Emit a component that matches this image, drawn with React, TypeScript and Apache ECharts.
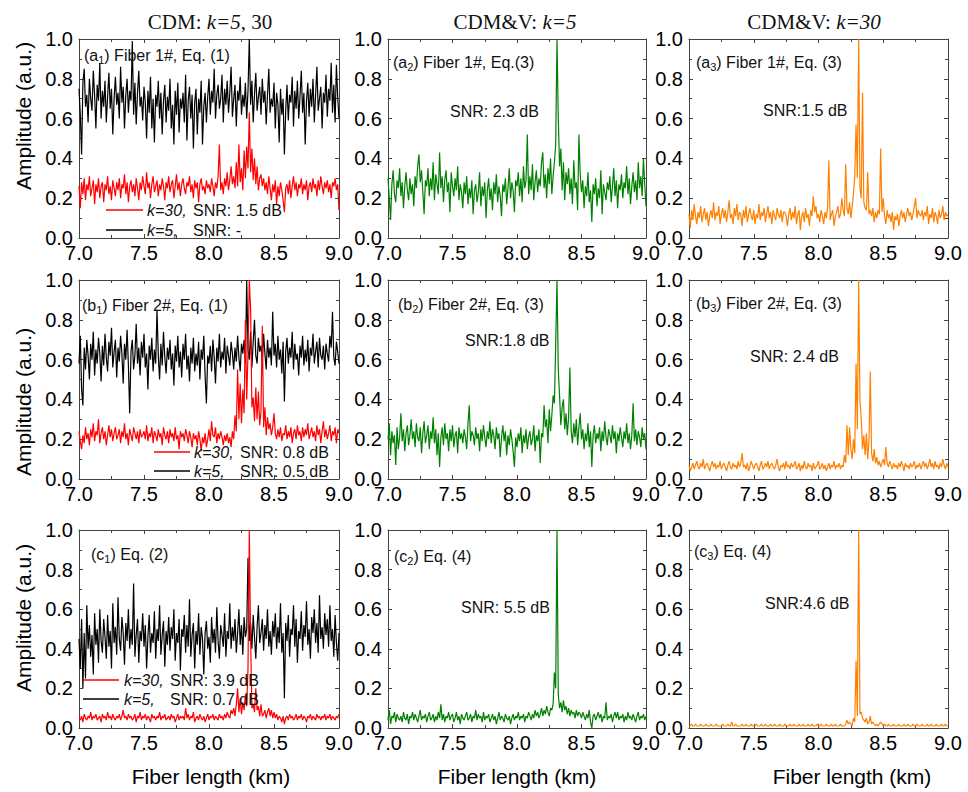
import React, { useEffect, useRef } from "react";
import * as echarts from "echarts";

// Sampling of the fiber-length axis (km)
const X_START = 7.0;
const X_STEP = 0.01;

// ---- Row a: Fiber 1# ----
const a1K5 = [
  .75,.62,.42,.78,.85,.66,.72,.58,.80,.70,
  .64,.84,.72,.55,.77,.69,.88,.60,.74,.66,
  .79,.58,.71,.83,.65,.75,.52,.70,.81,.67,
  .73,.60,.86,.68,.76,.55,.72,.80,.63,.74,
  .69,.99,.62,.78,.57,.73,.84,.66,.71,.59,
  .76,.68,.50,.74,.63,.81,.55,.70,.48,.72,
  .66,.79,.60,.73,.52,.69,.77,.58,.71,.64,
  .80,.55,.67,.47,.74,.62,.78,.53,.70,.65,
  .73,.58,.82,.49,.69,.76,.60,.72,.45,.68,
  .75,.52,.70,.63,.79,.47,.66,.73,.58,.71,
  .80,.62,.74,.68,.85,.60,.72,.77,.65,.70,
  .82,.58,.75,.67,.79,.63,.73,.86,.61,.70,
  .77,.56,.74,.69,.81,.62,.72,.66,.78,.60,
  .74,1.0,.67,.79,.58,.72,.83,.64,.71,.76,
  .62,.80,.68,.74,.57,.72,.85,.63,.70,.66,
  .78,.55,.73,.67,.48,.75,.62,.70,.42,.64,
  .77,.59,.72,.68,.81,.56,.74,.65,.79,.60,
  .71,.84,.63,.73,.47,.69,.78,.61,.75,.66,
  .80,.58,.72,.86,.64,.70,.76,.55,.73,.68,
  .82,.61,.75,.69,.88,.63,.77,.58,.87,.71,
  .60,
];
const a1K30 = [
  .26,.15,.28,.22,.30,.19,.27,.24,.31,.21,
  .25,.29,.17,.27,.23,.30,.20,.26,.28,.18,
  .27,.24,.31,.22,.26,.19,.29,.25,.21,.28,
  .24,.30,.20,.27,.25,.32,.22,.28,.18,.26,
  .29,.23,.27,.21,.30,.25,.19,.28,.24,.31,
  .26,.22,.33,.25,.28,.20,.27,.31,.23,.26,
  .29,.21,.27,.24,.30,.26,.19,.28,.25,.31,
  .23,.27,.29,.20,.26,.32,.24,.28,.21,.27,
  .30,.25,.22,.28,.26,.31,.23,.27,.20,.29,
  .25,.28,.18,.27,.30,.24,.26,.22,.29,.25,
  .27,.23,.30,.26,.21,.28,.25,.31,.47,.24,
  .28,.22,.30,.26,.33,.24,.29,.36,.27,.31,
  .25,.38,.26,.47,.28,.35,.24,.44,.30,.46,
  .35,.63,.33,.45,.29,.40,.27,.36,.24,.30,
  .32,.26,.30,.24,.28,.22,.31,.25,.19,.27,
  .23,.29,.17,.26,.21,.28,.24,.19,.13,.25,
  .27,.22,.29,.20,.26,.31,.24,.28,.21,.27,
  .25,.30,.22,.27,.24,.29,.19,.26,.28,.23,
  .30,.25,.27,.21,.29,.24,.31,.26,.22,.28,
  .25,.29,.23,.27,.20,.28,.26,.30,.24,.27,
  .14,
];
const a2K5 = [
  .30,.20,.09,.27,.34,.22,.18,.29,.25,.35,
  .21,.28,.15,.26,.33,.24,.19,.30,.22,.27,
  .16,.31,.25,.36,.42,.28,.34,.23,.12,.29,
  .26,.35,.21,.30,.24,.38,.19,.32,.27,.22,
  .43,.25,.31,.18,.29,.34,.23,.28,.13,.33,
  .26,.21,.30,.24,.36,.19,.27,.23,.15,.28,
  .22,.31,.17,.25,.20,.29,.12,.24,.27,.18,
  .23,.33,.16,.26,.21,.28,.10,.24,.30,.19,
  .25,.14,.28,.22,.32,.18,.26,.21,.11,.27,
  .23,.30,.17,.25,.35,.20,.28,.24,.13,.29,
  .26,.33,.21,.30,.18,.36,.25,.29,.52,.22,
  .31,.24,.37,.19,.28,.34,.23,.30,.26,.38,
  .43,.25,.32,.20,.35,.27,.40,.22,.31,.38,
  .47,1.0,.60,.36,.45,.24,.38,.19,.33,.27,
  .35,.22,.30,.17,.39,.25,.28,.14,.52,.32,
  .23,.29,.15,.26,.21,.33,.18,.24,.08,.27,
  .22,.30,.16,.25,.20,.34,.12,.27,.23,.19,
  .28,.24,.31,.18,.26,.35,.21,.29,.15,.27,
  .24,.32,.20,.28,.25,.36,.22,.30,.17,.26,
  .33,.23,.29,.19,.38,.25,.31,.21,.40,.27,
  .16,
];
const a3K30 = [
  .12,.05,.14,.09,.17,.11,.07,.13,.10,.16,
  .08,.12,.15,.09,.13,.06,.11,.14,.10,.18,
  .09,.13,.11,.16,.07,.12,.15,.10,.14,.08,
  .13,.19,.10,.12,.07,.15,.11,.17,.09,.13,
  .12,.06,.14,.10,.16,.08,.12,.15,.11,.09,
  .14,.07,.12,.10,.17,.09,.13,.11,.15,.08,
  .12,.16,.10,.13,.07,.14,.11,.09,.15,.12,
  .10,.14,.08,.13,.13,.11,.06,.12,.15,.09,
  .13,.10,.16,.07,.12,.14,.04,.11,.13,.08,
  .15,.10,.12,.06,.14,.11,.21,.13,.16,.10,
  .12,.08,.14,.11,.07,.13,.10,.15,.39,.09,
  .12,.14,.06,.11,.13,.16,.10,.12,.20,.14,
  .11,.37,.15,.12,.18,.10,.16,.22,.31,.57,
  .30,1.0,.25,.20,.73,.18,.15,.14,.33,.12,
  .14,.11,.15,.08,.13,.10,.14,.12,.45,.13,
  .20,.11,.07,.14,.10,.12,.08,.13,.04,.11,
  .09,.12,.06,.11,.14,.10,.13,.08,.12,.15,
  .11,.13,.09,.12,.16,.20,.10,.14,.12,.11,
  .14,.09,.13,.11,.16,.07,.12,.10,.15,.08,
  .13,.11,.07,.14,.10,.12,.16,.09,.13,.11,
  .12,
];

// ---- Row b: Fiber 2# ----
const b1K5 = [
  .58,.72,.45,.37,.66,.55,.70,.62,.50,.68,
  .60,.74,.52,.65,.58,.71,.63,.49,.67,.57,
  .73,.61,.54,.69,.62,.76,.56,.64,.70,.51,
  .66,.59,.72,.63,.48,.68,.60,.75,.57,.33,
  .64,.70,.55,.62,.78,.58,.66,.52,.69,.61,
  .73,.56,.63,.45,.67,.60,.71,.54,.65,.58,
  .85,.62,.50,.68,.57,.74,.61,.53,.66,.60,
  .70,.55,.63,.47,.67,.59,.72,.56,.64,.51,
  .68,.60,.73,.55,.62,.49,.66,.58,.71,.54,
  .63,.57,.69,.50,.65,.60,.72,.52,.38,.62,
  .58,.67,.54,.70,.61,.48,.66,.59,.73,.56,
  .64,.60,.71,.53,.67,.62,.57,.69,.63,.55,
  .66,.59,.72,.61,.54,.68,.63,.70,.58,1.0,
  .65,.60,.74,.56,.69,.80,.62,.58,.71,.64,
  .67,.59,.73,.63,.55,.70,.61,.66,.57,.84,
  .62,.68,.56,.72,.60,.65,.53,.69,.39,.64,
  .71,.58,.66,.61,.74,.55,.68,.60,.63,.52,
  .67,.61,.72,.57,.65,.59,.70,.54,.66,.62,
  .73,.58,.64,.69,.56,.71,.62,.60,.67,.55,
  .68,.63,.59,.72,.66,.84,.61,.57,.69,.64,
  .58,
];
const b1K30 = [
  .24,.19,.15,.22,.18,.26,.20,.23,.17,.25,
  .21,.28,.19,.24,.22,.30,.18,.23,.26,.20,
  .24,.17,.22,.27,.21,.25,.19,.23,.26,.20,
  .22,.25,.18,.24,.21,.28,.20,.23,.17,.25,
  .22,.19,.26,.23,.20,.24,.18,.25,.21,.22,
  .24,.20,.27,.19,.23,.21,.26,.18,.24,.22,
  .19,.25,.21,.23,.17,.26,.22,.20,.24,.18,
  .25,.21,.23,.19,.26,.20,.22,.15,.24,.21,
  .23,.19,.25,.22,.18,.24,.21,.16,.23,.20,
  .22,.17,.24,.20,.14,.21,.18,.23,.16,.20,
  .25,.19,.29,.22,.21,.26,.18,.23,.20,.24,
  .21,.17,.22,.19,.23,.18,.21,.16,.24,.20,
  .32,.24,.55,.30,.48,.28,.45,.33,.80,.40,
  .63,1.0,.85,.36,.41,.29,.46,.30,.44,.27,
  .34,.77,.26,.36,.22,.31,.25,.28,.22,.26,
  .33,.23,.20,.25,.21,.26,.19,.23,.22,.27,
  .20,.24,.21,.26,.18,.23,.25,.20,.27,.22,
  .24,.19,.26,.21,.25,.22,.28,.20,.23,.26,
  .21,.24,.19,.27,.22,.25,.18,.24,.29,.21,
  .25,.20,.23,.27,.19,.24,.22,.26,.18,.25,
  .23,
];
const b2K5 = [
  .20,.28,.12,.24,.18,.22,.07,.26,.15,.21,
  .33,.19,.25,.14,.23,.27,.17,.22,.30,.20,
  .24,.16,.28,.21,.19,.26,.13,.23,.29,.18,
  .22,.27,.15,.24,.20,.31,.18,.25,.12,.23,
  .06,.21,.26,.17,.28,.20,.23,.14,.25,.19,
  .27,.16,.22,.24,.13,.26,.20,.23,.18,.25,
  .21,.15,.28,.37,.19,.24,.22,.17,.26,.20,
  .23,.14,.25,.19,.27,.21,.16,.24,.20,.29,
  .18,.25,.22,.15,.26,.20,.23,.11,.21,.27,
  .19,.24,.12,.22,.17,.25,.20,.14,.06,.21,
  .16,.23,.19,.26,.13,.22,.18,.25,.15,.21,
  .24,.17,.20,.27,.14,.22,.19,.25,.08,.23,
  .21,.37,.26,.30,.18,.35,.24,.32,.42,.38,
  .68,1.0,.55,.42,.27,.36,.40,.25,.33,.22,
  .31,.56,.24,.18,.28,.21,.30,.17,.26,.33,
  .20,.25,.15,.23,.19,.28,.16,.24,.06,.22,
  .27,.18,.23,.20,.26,.14,.24,.19,.29,.21,
  .17,.25,.22,.18,.27,.20,.24,.13,.23,.19,
  .26,.21,.16,.24,.20,.28,.18,.23,.15,.22,
  .38,.19,.25,.17,.24,.21,.16,.26,.20,.23,
  .15,
];
const b3K30 = [
  .07,.04,.06,.08,.05,.07,.09,.06,.05,.08,
  .06,.10,.05,.07,.08,.06,.04,.07,.09,.06,
  .08,.05,.07,.06,.09,.05,.07,.08,.06,.04,
  .07,.09,.06,.05,.08,.06,.07,.05,.09,.06,
  .08,.13,.06,.07,.05,.08,.04,.06,.09,.07,
  .05,.07,.08,.06,.04,.07,.09,.05,.06,.08,
  .06,.09,.05,.07,.08,.06,.05,.07,.10,.06,
  .04,.07,.06,.08,.05,.09,.06,.07,.05,.08,
  .06,.07,.09,.05,.06,.08,.04,.07,.05,.09,
  .06,.05,.08,.06,.07,.04,.08,.05,.06,.07,
  .09,.05,.06,.08,.05,.07,.04,.06,.08,.05,
  .07,.06,.09,.05,.07,.06,.08,.05,.07,.06,
  .12,.08,.27,.12,.26,.15,.10,.20,.13,.58,
  .25,1.0,.40,.30,.15,.22,.12,.23,.10,.20,
  .54,.13,.09,.15,.08,.11,.07,.09,.06,.08,
  .10,.07,.16,.08,.06,.09,.07,.05,.08,.06,
  .07,.05,.08,.06,.09,.07,.04,.08,.06,.07,
  .05,.08,.06,.07,.09,.05,.07,.06,.08,.05,
  .07,.09,.06,.08,.05,.07,.10,.06,.08,.05,
  .09,.06,.07,.05,.08,.06,.10,.07,.05,.08,
  .06,
];

// ---- Row c ----
const c1K5 = [
  .45,.30,.55,.20,.48,.25,.62,.40,.52,.36,
  .47,.27,.58,.42,.50,.33,.60,.44,.38,.55,
  .46,.35,.57,.41,.49,.30,.63,.43,.51,.37,
  .66,.45,.39,.56,.48,.32,.53,.44,.60,.40,
  .50,.42,.73,.36,.47,.55,.33,.49,.44,.58,
  .41,.52,.30,.46,.57,.38,.48,.43,.59,.35,
  .50,.44,.62,.37,.47,.54,.31,.49,.42,.56,
  .39,.51,.45,.60,.34,.48,.43,.55,.29,.50,
  .46,.57,.38,.52,.41,.65,.36,.47,.53,.30,
  .49,.42,.58,.37,.51,.45,.27,.48,.54,.40,
  .46,.33,.56,.43,.50,.38,.61,.44,.35,.52,
  .47,.41,.58,.36,.49,.45,.63,.40,.51,.44,
  .55,.38,.48,.60,.42,.52,.37,.56,.46,.50,
  .86,.44,.53,.40,.57,.46,.35,.51,.62,.43,
  .48,.55,.39,.52,.45,.60,.41,.49,.37,.54,
  .46,.58,.40,.51,.43,.63,.38,.48,.15,.53,
  .44,.57,.36,.50,.47,.62,.41,.55,.33,.49,
  .45,.59,.39,.52,.46,.64,.42,.50,.35,.56,
  .48,.60,.43,.53,.38,.67,.45,.51,.40,.58,
  .47,.55,.41,.62,.44,.50,.36,.57,.43,.34,
  .48,
];
const c1K30 = [
  .05,.04,.06,.03,.07,.05,.04,.06,.05,.08,
  .04,.06,.05,.07,.04,.05,.06,.03,.07,.05,
  .06,.04,.08,.05,.06,.04,.07,.05,.04,.06,
  .05,.07,.04,.06,.09,.05,.06,.04,.07,.05,
  .06,.04,.05,.07,.03,.06,.05,.08,.04,.06,
  .05,.07,.04,.06,.05,.03,.07,.05,.06,.04,
  .06,.05,.08,.04,.06,.05,.07,.04,.05,.06,
  .04,.07,.05,.06,.03,.05,.07,.04,.06,.05,
  .06,.04,.10,.05,.07,.04,.06,.05,.08,.03,
  .05,.06,.04,.07,.05,.04,.06,.03,.05,.07,
  .04,.06,.05,.07,.04,.06,.05,.04,.07,.05,
  .06,.04,.07,.05,.08,.06,.05,.09,.07,.10,
  .06,.12,.20,.08,.15,.07,.13,.09,.17,.11,
  .30,1.0,.45,.10,.12,.08,.20,.09,.11,.06,
  .12,.06,.07,.09,.05,.08,.10,.06,.09,.05,
  .08,.05,.07,.04,.06,.05,.03,.06,.02,.05,
  .06,.04,.07,.05,.06,.04,.05,.07,.04,.06,
  .05,.07,.04,.06,.05,.03,.06,.05,.07,.04,
  .06,.05,.04,.07,.05,.06,.04,.06,.05,.07,
  .04,.06,.05,.07,.04,.06,.05,.04,.06,.05,
  .07,
];
const c2K5 = [
  .04,.09,.02,.06,.05,.08,.03,.07,.05,.04,
  .06,.03,.08,.05,.04,.07,.02,.06,.05,.08,
  .04,.07,.05,.03,.06,.09,.04,.06,.05,.07,
  .03,.06,.08,.04,.05,.07,.03,.06,.04,.08,
  .05,.12,.04,.07,.03,.06,.05,.08,.04,.06,
  .07,.03,.05,.08,.04,.06,.02,.07,.05,.04,
  .06,.08,.04,.05,.07,.03,.06,.05,.09,.04,
  .07,.05,.06,.03,.08,.04,.06,.05,.07,.03,
  .05,.07,.04,.06,.02,.05,.08,.04,.06,.05,
  .03,.07,.05,.04,.06,.02,.05,.07,.04,.06,
  .05,.08,.04,.06,.05,.07,.03,.06,.05,.08,
  .06,.04,.07,.05,.09,.06,.08,.05,.07,.10,
  .06,.09,.07,.11,.08,.06,.10,.09,.12,.28,
  .20,1.0,.17,.10,.13,.08,.14,.09,.11,.07,
  .10,.06,.09,.07,.08,.05,.09,.06,.08,.07,
  .05,.08,.06,.04,.07,.05,.09,.03,.00,.06,
  .07,.04,.06,.08,.05,.07,.03,.06,.05,.13,
  .04,.06,.05,.07,.03,.06,.08,.05,.08,.04,
  .06,.05,.07,.03,.06,.04,.08,.05,.06,.04,
  .07,.05,.03,.06,.08,.04,.06,.05,.07,.04,
  .06,
];
const c3K30 = [
  .01,.01,.02,.01,.01,.02,.01,.01,.01,.02,
  .01,.01,.01,.02,.01,.01,.01,.02,.01,.01,
  .01,.02,.01,.01,.01,.01,.02,.01,.01,.01,
  .02,.01,.01,.03,.01,.01,.02,.01,.01,.01,
  .01,.02,.01,.01,.02,.01,.01,.01,.02,.01,
  .01,.01,.02,.01,.01,.01,.02,.01,.01,.02,
  .01,.01,.01,.02,.01,.01,.02,.01,.01,.01,
  .02,.01,.01,.01,.02,.01,.01,.01,.02,.01,
  .01,.02,.01,.01,.01,.02,.01,.01,.02,.01,
  .01,.01,.02,.01,.01,.02,.01,.01,.01,.02,
  .01,.01,.02,.01,.01,.01,.02,.01,.01,.01,
  .02,.01,.01,.02,.01,.01,.01,.02,.01,.01,
  .01,.02,.04,.02,.03,.02,.01,.05,.03,.34,
  .06,1.0,.07,.08,.05,.04,.03,.05,.02,.03,
  .06,.02,.03,.02,.01,.02,.01,.02,.03,.02,
  .01,.02,.01,.01,.02,.01,.01,.01,.02,.01,
  .01,.01,.02,.01,.01,.01,.02,.01,.01,.02,
  .01,.01,.01,.02,.01,.01,.02,.01,.01,.01,
  .02,.01,.01,.01,.02,.01,.01,.02,.01,.01,
  .01,.02,.01,.01,.01,.02,.01,.01,.02,.01,
  .01,
];

// Titles / labels
const columnTitles = [
  "CDM: {i|k=5}, 30",
  "CDM&V: {i|k=5}",
  "CDM&V: {i|k=30}",
];
const xAxisName = "Fiber length (km)";
const yAxisName = "Amplitude (a.u.)";

const RED = "#ff0000";
const BLACK = "#000000";
const GREEN = "#008000";
const ORANGE = "#ff8000";

const COLS = [
  { left: 79, width: 260 },
  { left: 388, width: 258 },
  { left: 689, width: 259 },
];
const ROWS = [
  { top: 39, height: 199 },
  { top: 280, height: 199 },
  { top: 530, height: 198 },
];

const panels = [
  { r: 0, c: 0, lines: [{ d: a1K5, color: BLACK }, { d: a1K30, color: RED }] },
  { r: 0, c: 1, lines: [{ d: a2K5, color: GREEN }] },
  { r: 0, c: 2, lines: [{ d: a3K30, color: ORANGE }] },
  { r: 1, c: 0, lines: [{ d: b1K5, color: BLACK }, { d: b1K30, color: RED }] },
  { r: 1, c: 1, lines: [{ d: b2K5, color: GREEN }] },
  { r: 1, c: 2, lines: [{ d: b3K30, color: ORANGE }] },
  { r: 2, c: 0, lines: [{ d: c1K5, color: BLACK }, { d: c1K30, color: RED }] },
  { r: 2, c: 1, lines: [{ d: c2K5, color: GREEN }] },
  { r: 2, c: 2, lines: [{ d: c3K30, color: ORANGE }] },
];

const SANS = "'Liberation Sans', Arial, sans-serif";
const SERIF = "'Liberation Serif', 'Times New Roman', serif";
const AXIS_COLOR = "#444";

function toPairs(ys: number[]) {
  return ys.map((y, i) => [Number((X_START + i * X_STEP).toFixed(2)), y]);
}

function makeText(text: string, x: number, y: number, opts: any = {}) {
  return {
    type: "text",
    silent: true,
    z: 100,
    x,
    y,
    rotation: opts.rotation || 0,
    style: {
      text,
      fontSize: opts.fontSize || 16,
      fontFamily: opts.fontFamily || SANS,
      fontStyle: opts.fontStyle || "normal",
      fill: opts.fill || "#111",
      align: opts.align || "left",
      verticalAlign: "middle",
      rich: opts.rich,
    },
  };
}

function makeLine(x1: number, x2: number, y: number, color: string) {
  return {
    type: "line",
    silent: true,
    z: 100,
    shape: { x1, y1: y, x2, y2: y },
    style: { stroke: color, lineWidth: 1.3 },
  };
}

const subRich = {
  s: { fontSize: 11, fontFamily: SANS, padding: [9, 0, 0, 0], fill: "#111" },
};
const italRich = {
  i: { fontStyle: "italic", fontSize: 16, fontFamily: SANS, fill: "#111" },
};

export default function App() {
  const ref = useRef<HTMLDivElement>(null);

  useEffect(() => {
    if (!ref.current) return;
    const chart = echarts.init(ref.current, undefined, { renderer: "svg" });

    const grid: any[] = [];
    const xAxis: any[] = [];
    const yAxis: any[] = [];
    const series: any[] = [];

    const axisLine = { show: true, onZero: false, lineStyle: { color: AXIS_COLOR, width: 1 } };
    const axisTick = { show: true, inside: true, length: 4, lineStyle: { color: AXIS_COLOR } };
    const minorTick = { show: true, inside: true, splitNumber: 2, length: 3, lineStyle: { color: AXIS_COLOR } };

    panels.forEach((p, g) => {
      grid.push({
        left: COLS[p.c].left,
        top: ROWS[p.r].top,
        width: COLS[p.c].width,
        height: ROWS[p.r].height,
        containLabel: false,
      });
      ["bottom", "top"].forEach((pos) => {
        xAxis.push({
          type: "value",
          gridIndex: g,
          position: pos,
          min: 7,
          max: 9,
          interval: 0.5,
          axisLine,
          axisTick,
          minorTick,
          splitLine: { show: false },
          minorSplitLine: { show: false },
          axisLabel: {
            show: pos === "bottom",
            fontSize: 20,
            fontFamily: SANS,
            color: "#000",
            margin: 5,
            showMinLabel: true,
            showMaxLabel: true,
            formatter: (v: number) => v.toFixed(1),
          },
        });
      });
      ["left", "right"].forEach((pos) => {
        yAxis.push({
          type: "value",
          gridIndex: g,
          position: pos,
          min: 0,
          max: 1,
          interval: 0.2,
          axisLine,
          axisTick,
          minorTick,
          splitLine: { show: false },
          minorSplitLine: { show: false },
          axisLabel: {
            show: pos === "left",
            fontSize: 20,
            fontFamily: SANS,
            color: "#000",
            margin: 6,
            showMinLabel: true,
            showMaxLabel: true,
            formatter: (v: number) => v.toFixed(1),
          },
        });
      });
      p.lines.forEach((ln) => {
        series.push({
          type: "line",
          xAxisIndex: 2 * g,
          yAxisIndex: 2 * g,
          data: toPairs(ln.d),
          showSymbol: false,
          symbol: "none",
          lineStyle: { color: ln.color, width: 1.2 },
          itemStyle: { color: ln.color },
          emphasis: { disabled: true },
          silent: true,
        });
      });
    });

    const graphics: any[] = [];
    // column titles
    const titleX = [210, 515, 814];
    columnTitles.forEach((t, i) => {
      graphics.push(
        makeText(t, titleX[i], 22, {
          fontSize: 21,
          fontFamily: SERIF,
          align: "center",
          fill: "#111",
          rich: { i: { fontStyle: "italic", fontSize: 21, fontFamily: SERIF, fill: "#111" } },
        })
      );
    });
    // axis names
    [116, 402, 618].forEach((cy) => {
      graphics.push(makeText(yAxisName, 23, cy, { fontSize: 21, align: "center", rotation: Math.PI / 2, fill: "#000" }));
    });
    [211, 517, 852].forEach((cx) => {
      graphics.push(makeText(xAxisName, cx, 776, { fontSize: 21, align: "center", fill: "#000" }));
    });

    // panel labels
    const panelLabels: [string, number, number][] = [
      ["(a{s|1}) Fiber 1#, Eq. (1)", 84, 55],
      ["(a{s|2}) Fiber 1#, Eq.(3)", 393, 62],
      ["(a{s|3}) Fiber 1#, Eq. (3)", 696, 62],
      ["(b{s|1}) Fiber 2#, Eq. (1)", 82, 305],
      ["(b{s|2}) Fiber 2#, Eq. (3)", 398, 304],
      ["(b{s|3}) Fiber 2#, Eq. (3)", 696, 303],
      ["(c{s|1}) Eq. (2)", 91, 554],
      ["(c{s|2}) Eq. (4)", 394, 556],
      ["(c{s|3}) Eq. (4)", 694, 551],
    ];
    panelLabels.forEach(([t, x, y]) => graphics.push(makeText(t, x, y, { rich: subRich })));

    // SNR annotations
    const snrLabels: [string, number, number][] = [
      ["SNR: 2.3 dB", 450, 111],
      ["SNR:1.5 dB", 763, 110],
      ["SNR:1.8 dB", 465, 340],
      ["SNR: 2.4 dB", 750, 356],
      ["SNR: 5.5 dB", 461, 607],
      ["SNR:4.6 dB", 765, 603],
    ];
    snrLabels.forEach(([t, x, y]) => graphics.push(makeText(t, x, y)));

    // in-panel legends of the CDM column
    const legends = [
      { lx1: 106, lx2: 143, tx: 147, yR: 210, yK: 230, r: "1.5 dB", k: "-" },
      { lx1: 154, lx2: 190, tx: 194, yR: 452, yK: 471, r: "0.8 dB", k: "0.5 dB" },
      { lx1: 83, lx2: 119, tx: 124, yR: 680, yK: 699, r: "3.9 dB", k: "0.7 dB" },
    ];
    legends.forEach((L) => {
      graphics.push(makeLine(L.lx1, L.lx2, L.yR, RED));
      graphics.push(makeLine(L.lx1, L.lx2, L.yK, BLACK));
      graphics.push(makeText("{i|k=30,}", L.tx, L.yR, { rich: italRich }));
      graphics.push(makeText("SNR: " + L.r, L.tx + 46, L.yR));
      graphics.push(makeText("{i|k=5,}", L.tx, L.yK, { rich: italRich }));
      graphics.push(makeText("SNR: " + L.k, L.tx + 46, L.yK));
    });

    chart.setOption({
      animation: false,
      backgroundColor: "#ffffff",
      grid,
      xAxis,
      yAxis,
      series,
      graphic: { elements: graphics },
    });

    return () => {
      chart.dispose();
    };
  }, []);

  return (
    <div
      ref={ref}
      style={{ position: "fixed", left: 0, top: 0, width: 968, height: 792 }}
    />
  );
}
